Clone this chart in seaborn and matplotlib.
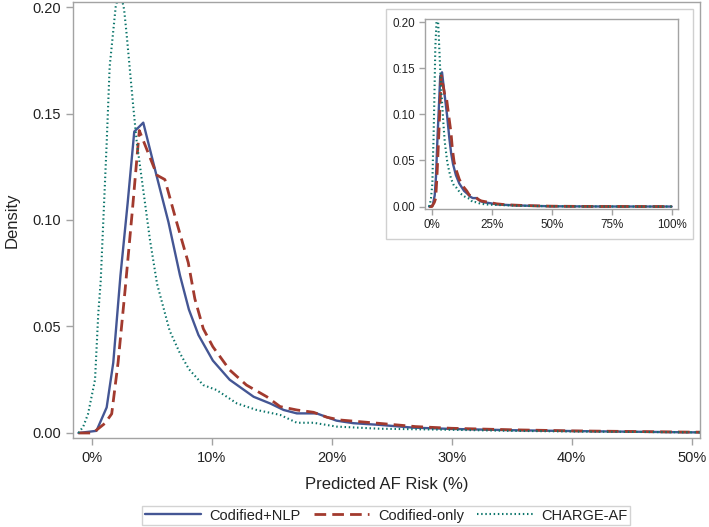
import numpy as np
import pandas as pd
import matplotlib
matplotlib.use("Agg")
import matplotlib.pyplot as plt
import seaborn as sns
from matplotlib.patches import Rectangle
from matplotlib.lines import Line2D
from matplotlib.ticker import FuncFormatter

# ---------------- data ----------------
series_names = ["Codified+NLP", "Codified-only", "CHARGE-AF"]

nlp_risk = [-1.1, 0.4, 1.25, 1.8, 2.4, 3.0, 3.55, 4.3, 5.4, 6.4, 7.36, 8.1, 8.9,
            10.1, 11.5, 13.5, 14.9, 16.0, 17.1, 18.75, 20.4, 21.8, 24.0, 26.8,
            30.0, 35.0, 40.0, 45.0, 50.0, 60.0, 70.0, 80.0, 90.0, 100.0]
nlp_density = [0.0, 0.001, 0.012, 0.033, 0.074, 0.108, 0.1415, 0.1457, 0.121,
               0.099, 0.074, 0.058, 0.046, 0.034, 0.025, 0.017, 0.0138, 0.0108,
               0.0092, 0.0092, 0.0058, 0.0046, 0.0038, 0.0025, 0.0019, 0.0013,
               0.0009, 0.0006, 0.0003, 0.0002, 0.0001, 0.00005, 0.00003, 0.0]

cod_risk = [-1.1, 0.1, 1.1, 1.67, 2.2, 2.8, 3.4, 3.97, 5.45, 6.1, 7.08, 8.05,
            8.6, 9.3, 10.1, 11.5, 12.9, 14.6, 15.7, 17.1, 18.5, 19.6, 20.7,
            24.0, 27.0, 30.0, 35.0, 40.0, 45.0, 50.0, 60.0, 70.0, 80.0, 90.0,
            100.0]
cod_density = [0.0, 0.0, 0.0045, 0.009, 0.033, 0.068, 0.105, 0.142, 0.121,
               0.119, 0.099, 0.080, 0.063, 0.049, 0.0405, 0.0296, 0.0225,
               0.017, 0.0124, 0.0108, 0.0097, 0.0074, 0.0061, 0.0045, 0.003,
               0.0022, 0.0015, 0.001, 0.0007, 0.0004, 0.0002, 0.0001, 0.0001,
               0.00005, 0.0]

chg_risk = [-1.1, -0.7, -0.3, 0.28, 0.55, 0.75, 1.25, 1.5, 2.0, 2.35, 2.7, 2.9,
            3.47, 3.75, 4.86, 5.45, 6.5, 7.36, 8.1, 9.3, 10.4, 12.1, 13.75,
            15.7, 17.1, 18.5, 20.4, 24.0, 30.0, 35.0, 40.0, 45.0, 50.0, 60.0,
            70.0, 80.0, 90.0, 100.0]
chg_density = [0.0, 0.003, 0.009, 0.025, 0.056, 0.071, 0.136, 0.172, 0.200,
               0.208, 0.199, 0.188, 0.153, 0.137, 0.0906, 0.070, 0.048, 0.0374,
               0.030, 0.0225, 0.0202, 0.0139, 0.0108, 0.0085, 0.0048, 0.0048,
               0.003, 0.002, 0.0015, 0.001, 0.0007, 0.0005, 0.0003, 0.0001,
               0.0001, 0.0, 0.0, 0.0]

main_xticks = [0, 10, 20, 30, 40, 50]
main_yticks = [0.00, 0.05, 0.10, 0.15, 0.20]
inset_xticks = [0, 25, 50, 75, 100]
inset_yticks = [0.00, 0.05, 0.10, 0.15, 0.20]

# ---------------- build long-form table ----------------
df = pd.concat([
    pd.DataFrame({"risk": nlp_risk, "density": nlp_density, "model": series_names[0]}),
    pd.DataFrame({"risk": cod_risk, "density": cod_density, "model": series_names[1]}),
    pd.DataFrame({"risk": chg_risk, "density": chg_density, "model": series_names[2]}),
], ignore_index=True)

palette = {"Codified+NLP": "#445694", "Codified-only": "#A23A2E", "CHARGE-AF": "#0b756b"}
dashes = {"Codified+NLP": "", "Codified-only": (4.2, 2.2), "CHARGE-AF": (0.7, 1.3)}
widths = {"Codified+NLP": 1.7, "Codified-only": 2.0, "CHARGE-AF": 1.5}

sns.set_theme(style="white")
plt.rcParams["font.family"] = ["Liberation Sans", "DejaVu Sans"]

GRAY = "#a3a3a3"
TXT = "#222222"

fig = plt.figure(figsize=(7.09, 5.27), dpi=100)
ax = fig.add_axes([0.1034, 0.1683, 0.8839, 0.8285])


def draw(a):
    sns.lineplot(data=df, x="risk", y="density", hue="model", style="model",
                 palette=palette, dashes=dashes, hue_order=series_names,
                 style_order=series_names, estimator=None, sort=True, ax=a,
                 legend=False)
    for line, name in zip(a.get_lines(), series_names):
        line.set_linewidth(widths[name])


def style_axes(a, fs, ticklen, pad):
    for s in a.spines.values():
        s.set_color(GRAY)
        s.set_linewidth(1.0)
        s.set_visible(True)
    a.tick_params(axis="both", which="major", direction="out", length=ticklen,
                  width=1.0, color=GRAY, labelcolor=TXT, labelsize=fs,
                  bottom=True, left=True, pad=pad)
    a.xaxis.set_major_formatter(FuncFormatter(lambda v, p: f"{v:.0f}%"))
    a.yaxis.set_major_formatter(FuncFormatter(lambda v, p: f"{v:.2f}"))


draw(ax)
ax.set_xlim(-1.53, 50.7)
ax.set_ylim(-0.0025, 0.2025)
ax.set_xticks(main_xticks)
ax.set_yticks(main_yticks)
style_axes(ax, 10.5, 5, 4)
ax.set_xlabel("Predicted AF Risk (%)", fontsize=12, color=TXT, labelpad=9)
ax.set_ylabel("Density", fontsize=12, color=TXT, labelpad=9)

# inset outer light box
fig.patches.append(Rectangle((0.5444, 0.5465), 0.4326, 0.4359,
                             transform=fig.transFigure, fill=True,
                             facecolor="white", edgecolor="#d0d0d0",
                             linewidth=1.0, zorder=2))

axin = fig.add_axes([0.5994, 0.6028, 0.3568, 0.3611], zorder=3)
draw(axin)
axin.set_xlim(-2.8, 102.6)
axin.set_ylim(-0.003, 0.2035)
axin.set_xticks(inset_xticks)
axin.set_yticks(inset_yticks)
style_axes(axin, 8.4, 4, 3)
axin.set_xlabel("")
axin.set_ylabel("")

# legend
handles = [Line2D([], [], color=palette[n], lw=widths[n],
                  linestyle=("-" if dashes[n] == "" else (0, dashes[n])))
           for n in series_names]
leg = fig.legend(handles, series_names, loc="lower center",
                 bbox_to_anchor=(0.545, 0.003), ncol=3, frameon=True,
                 fontsize=10.5, handlelength=3.8, handletextpad=0.6,
                 columnspacing=0.9, borderpad=0.2, borderaxespad=0.0,
                 fancybox=False)
leg.get_frame().set_edgecolor("#c8c8c8")
leg.get_frame().set_linewidth(1.0)
for t in leg.get_texts():
    t.set_color(TXT)

fig.savefig("out.png", dpi=100)
